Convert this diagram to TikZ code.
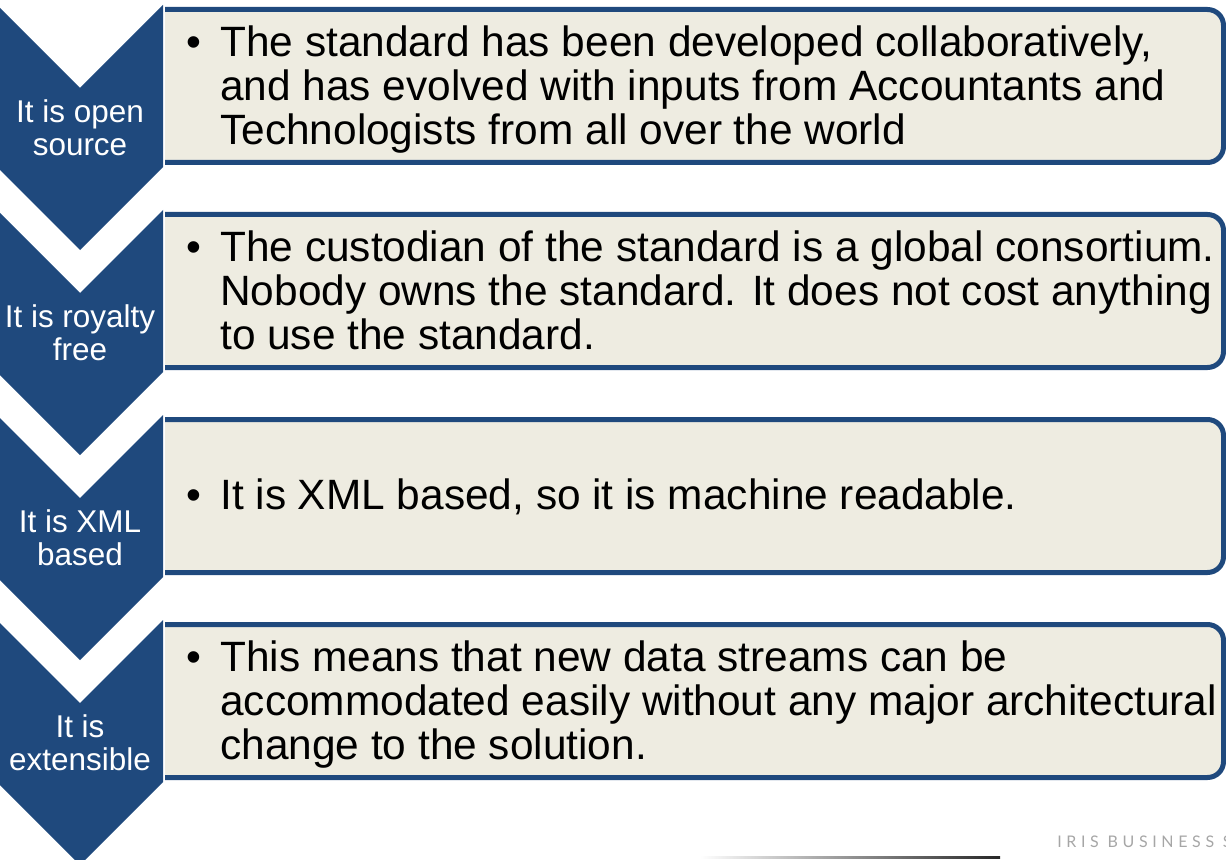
\documentclass[tikz,border=0pt]{standalone}
\usepackage{fontspec}
\setmainfont{Liberation Sans}
\newfontfamily\irisfont[LetterSpace=29]{Lato}
\definecolor{chevblue}{HTML}{1F497D}
\definecolor{boxbeige}{HTML}{EEECE1}
\definecolor{irisgray}{HTML}{A6A6A6}
\begin{document}
\begin{tikzpicture}[x=0.75pt,y=-0.75pt,
  chevron/.style={fill=chevblue},
  boxshape/.style={fill=boxbeige, draw=chevblue, line width=3.75pt, rounded corners=12pt},
  chevtext/.style={text=white, align=center, inner sep=0pt, font=\fontsize{23.6}{24.75}\selectfont},
  boxtext/.style={anchor=west, inner sep=0pt, text=black, font=\fontsize{31.8}{33}\selectfont}]
\useasboundingbox (0,0) rectangle (1226,859);

% boxes
\filldraw[boxshape] (165,9.5) -- (1223.5,9.5) -- (1223.5,162.5) -- (165,162.5);
\filldraw[boxshape] (165,214.5) -- (1223.5,214.5) -- (1223.5,367.5) -- (165,367.5);
\filldraw[boxshape] (165,419.5) -- (1223.5,419.5) -- (1223.5,572.5) -- (165,572.5);
\filldraw[boxshape] (165,624.5) -- (1223.5,624.5) -- (1223.5,777.5) -- (165,777.5);

% chevrons
\fill[chevron] (-3,5) -- (80,88) -- (163,5) -- (163,167) -- (80,250) -- (-3,167) -- cycle;
\fill[chevron] (-3,210) -- (80,293) -- (163,210) -- (163,372) -- (80,455) -- (-3,372) -- cycle;
\fill[chevron] (-3,415) -- (80,498) -- (163,415) -- (163,577) -- (80,660) -- (-3,577) -- cycle;
\fill[chevron] (-3,620) -- (80,703) -- (163,620) -- (163,782) -- (80,865) -- (-3,782) -- cycle;

% chevron labels
\node[chevtext] (c1) at (80,128) {It is open\\source};
\node[chevtext] (c2) at (80,333) {It is royalty\\free};
\node[chevtext] (c3) at (80,538) {It is XML\\based};
\node[chevtext] (c4) at (80,743) {It is\\extensible};

% box texts
\node[boxtext] (b1) at (186,91.5) {\begin{tabular}{@{}l@{}l@{}}
\makebox[25.5pt][l]{\textbullet} & The standard has been developed collaboratively,\\
 & and has evolved with inputs from Accountants and\\
 & Technologists from all over the world\end{tabular}};
\node[boxtext] (b2) at (186,296.5) {\begin{tabular}{@{}l@{}l@{}}
\makebox[25.5pt][l]{\textbullet} & The custodian of the standard is a global consortium.\\
 & Nobody owns the standard. It does not cost anything\\
 & to use the standard.\end{tabular}};
\node[boxtext] (b3) at (186,501) {\begin{tabular}{@{}l@{}l@{}}
\makebox[25.5pt][l]{\textbullet} & It is XML based, so it is machine readable.\end{tabular}};
\node[boxtext] (b4) at (186,706.5) {\begin{tabular}{@{}l@{}l@{}}
\makebox[25.5pt][l]{\textbullet} & This means that new data streams can be\\
 & accommodated easily without any major architectural\\
 & change to the solution.\end{tabular}};

% footer
\node[anchor=base west, inner sep=0pt, text=irisgray, font=\irisfont\fontsize{12}{14}\selectfont] (iris) at (1057,847) {IRIS BUSINESS S};
\shade[left color=white, right color=black!85] (700,856) rectangle (1000,858);
\end{tikzpicture}
\end{document}
